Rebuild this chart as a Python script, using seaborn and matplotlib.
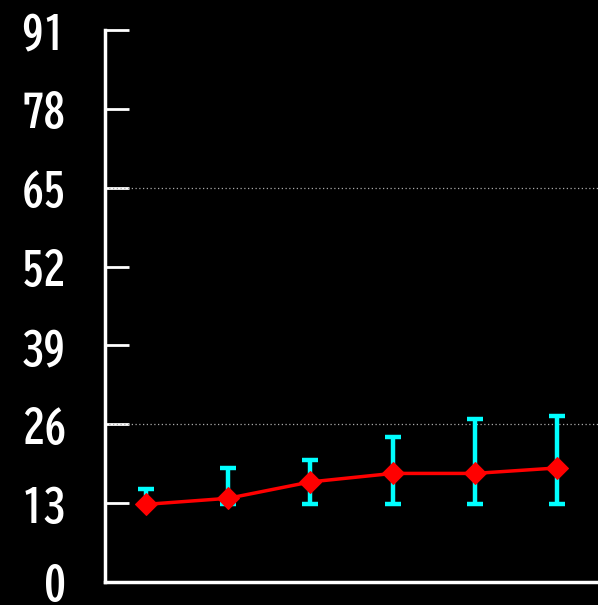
import numpy as np
import pandas as pd
import matplotlib
matplotlib.use("Agg")
import matplotlib.pyplot as plt
import seaborn as sns

# values
groups = [0, 1, 2, 3, 4, 5]
means = [12.8, 13.8, 16.5, 17.9, 17.9, 18.8]
lows = [12.8, 12.8, 12.8, 12.8, 12.8, 12.8]
highs = [15.3, 18.8, 20.1, 23.9, 26.8, 27.3]
yticks = [0, 13, 26, 39, 52, 65, 78, 91]
gridlines = [26, 65]

sns.set_theme(style="dark", rc={"axes.facecolor": "black", "figure.facecolor": "black"})
plt.rcParams['font.family'] = ['BIZ UDGothic', 'IPAGothic', 'DejaVu Sans']

df = pd.DataFrame({"x": groups, "mean": means, "low": lows, "high": highs})

fig = plt.figure(figsize=(5.98, 6.05), dpi=100)
ax = fig.add_axes([105 / 598, 1 - 582 / 605, 1 - 105 / 598, (582 - 30) / 605])

for g in gridlines:
    ax.axhline(g, color="#aaaaaa", lw=0.9, ls=(0, (1, 2)), zorder=1)

yerr = np.array([df["mean"] - df["low"], df["high"] - df["mean"]])
ax.errorbar(df["x"], df["mean"], yerr=yerr, fmt="none", ecolor="#00ffff",
            elinewidth=3.2, capsize=5.5, capthick=3.2, zorder=2)
sns.lineplot(data=df, x="x", y="mean", color="red", lw=2.5, marker="D",
             markersize=11, markeredgecolor="red", ax=ax, zorder=3)

ax.set_xlim(-0.5, 5.5)
ax.set_ylim(0, 91)
ax.set_yticks(yticks)
ax.set_yticklabels([str(t) for t in yticks], color="white", fontsize=32, fontweight="bold")
ax.set_xticks([])
ax.set_xlabel("")
ax.set_ylabel("")
ax.tick_params(axis="y", direction="in", length=17, width=2, color="white", pad=28, left=True)
for s in ["top", "right"]:
    ax.spines[s].set_visible(False)
for s in ["left", "bottom"]:
    ax.spines[s].set_visible(True)
    ax.spines[s].set_color("white")
    ax.spines[s].set_linewidth(2.5)
ax.grid(False)

fig.savefig("out.png", dpi=100, facecolor="black")
